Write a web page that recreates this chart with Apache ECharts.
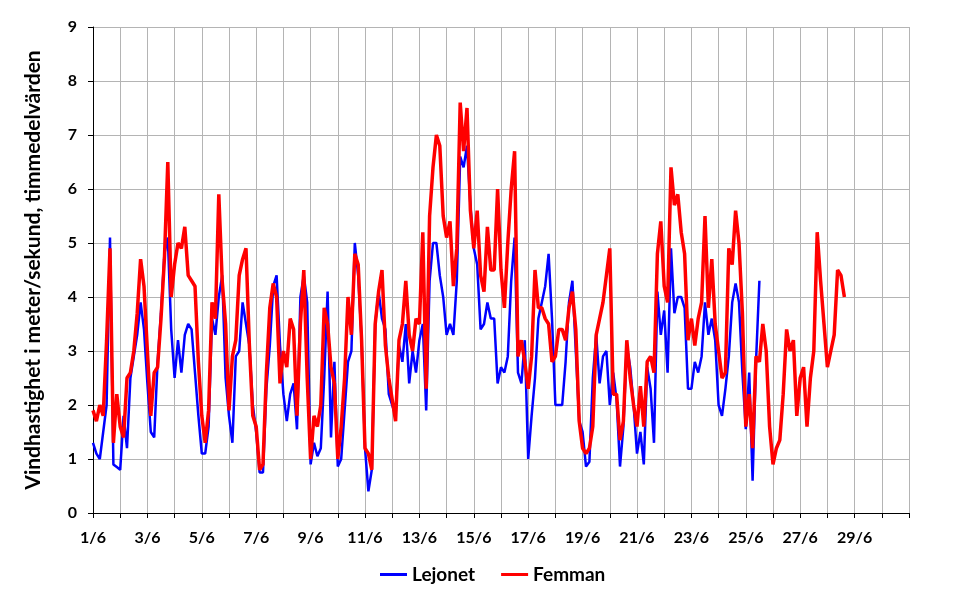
<!DOCTYPE html>
<html>
<head>
<meta charset="utf-8">
<script src="https://cdn.jsdelivr.net/npm/echarts@6/dist/echarts.min.js"></script>
<style>
html,body{margin:0;padding:0;background:#fff;}
#chart{width:969px;height:592px;}
</style>
</head>
<body>
<div id="chart"></div>
<script>
// 3-hour steps starting 1/6 00:00 (8 values per day)
const stepDays = 1 / 8;
const monthLabel = '/6';
const seriesNames = ['Lejonet', 'Femman'];
const yTitle = 'Vindhastighet i meter/sekund, timmedelvärden';

const lejonet = [
  1.3,1.1,1.0,1.5,2.0,5.1,0.9,0.85,
  0.8,1.8,1.2,2.5,2.9,3.3,3.9,3.4,
  2.4,1.5,1.4,2.8,3.7,4.8,5.1,3.4,
  2.5,3.2,2.6,3.3,3.5,3.4,2.6,1.8,
  1.1,1.1,1.6,3.6,3.3,4.0,4.4,2.5,
  1.8,1.3,2.9,3.0,3.9,3.5,3.1,2.0,
  1.5,0.75,0.75,2.3,3.1,4.2,4.4,3.1,
  2.2,1.7,2.2,2.4,1.55,4.0,4.4,3.9,
  0.9,1.3,1.05,1.2,2.5,4.1,1.4,2.8,
  0.86,1.0,1.9,2.8,3.0,5.0,4.4,3.2,
  1.2,0.4,0.8,3.5,4.1,3.6,3.4,2.2,
  2.0,1.8,3.1,2.8,3.5,2.4,3.0,2.6,
  3.2,3.5,1.9,4.3,5.0,5.0,4.4,4.0,
  3.3,3.5,3.3,4.3,6.6,6.4,6.8,5.7,
  4.9,4.6,3.4,3.5,3.9,3.6,3.6,2.4,
  2.7,2.6,2.9,4.3,5.1,2.6,2.4,3.2,
  1.0,1.8,2.5,3.6,3.9,4.2,4.8,3.6,
  2.0,2.0,2.0,2.8,3.9,4.3,3.0,1.7,
  1.5,0.86,0.95,2.5,3.3,2.4,2.9,3.0,
  2.0,2.6,2.1,0.86,1.6,3.1,2.7,2.0,
  1.1,1.5,0.9,2.7,2.3,1.3,4.1,3.3,
  3.75,2.6,4.9,3.7,4.0,4.0,3.8,2.3,
  2.3,2.8,2.6,2.9,3.9,3.3,3.6,3.2,
  2.0,1.8,2.3,2.9,3.9,4.25,3.9,2.6,
  1.55,2.6,0.6,2.8,4.3
];

const femman = [
  1.9,1.7,2.0,1.8,3.2,4.9,1.3,2.2,
  1.6,1.4,2.5,2.6,3.0,3.7,4.7,4.2,
  3.0,1.8,2.6,2.7,3.6,4.7,6.5,4.0,
  4.6,5.0,4.9,5.3,4.4,4.3,4.2,2.8,
  1.8,1.3,1.9,3.9,3.6,5.9,4.3,3.5,
  1.9,2.9,3.2,4.4,4.7,4.9,3.1,1.8,
  1.6,0.8,0.9,2.6,3.8,4.25,4.0,2.4,
  3.0,2.7,3.6,3.4,1.8,3.5,4.5,2.5,
  1.0,1.8,1.6,2.0,3.8,3.5,2.7,2.4,
  1.0,1.6,2.5,4.0,3.3,4.8,4.6,3.2,
  1.2,1.1,0.8,3.5,4.1,4.5,3.1,2.5,
  2.1,1.7,3.2,3.5,4.3,3.3,3.0,3.6,
  3.5,5.2,2.3,5.5,6.4,7.0,6.8,5.5,
  5.1,5.4,4.2,4.9,7.6,6.7,7.5,5.6,
  4.9,5.6,4.4,4.1,5.3,4.5,4.5,6.0,
  4.5,3.8,5.0,6.0,6.7,2.9,3.2,2.8,
  2.3,2.9,4.5,3.8,3.8,3.6,3.5,2.8,
  2.9,3.4,3.4,3.2,3.8,4.1,3.4,1.7,
  1.2,1.1,1.2,1.6,3.3,3.6,3.9,4.4,
  4.9,2.2,2.2,1.35,1.7,3.2,2.5,2.0,
  1.6,2.35,1.6,2.8,2.9,2.6,4.8,5.4,
  4.2,3.9,6.4,5.7,5.9,5.2,4.8,3.2,
  3.6,3.1,3.6,3.9,5.5,3.8,4.7,3.5,
  3.0,2.5,2.6,4.9,4.6,5.6,5.0,3.7,
  1.6,2.2,1.2,2.9,2.8,3.5,3.0,1.6,
  0.9,1.2,1.35,2.2,3.4,3.0,3.2,1.8,
  2.5,2.7,1.6,2.5,3.0,5.2,4.3,3.5,
  2.7,3.0,3.3,4.5,4.4,4.0
];

const toPairs = arr => arr.map((v, i) => [i * stepDays, v]);

const font = 'Lato, "Liberation Sans", sans-serif';
const chart = echarts.init(document.getElementById('chart'), null, {renderer: 'canvas'});
chart.setOption({
  animation: false,
  backgroundColor: '#ffffff',
  grid: {left: 93, right: 60, top: 27, bottom: 79, containLabel: false},
  xAxis: {
    type: 'value', min: 0, max: 30, interval: 1,
    axisLine: {show: true, lineStyle: {color: '#000', width: 1}},
    axisTick: {show: true, length: 5, lineStyle: {color: '#000'}},
    splitLine: {show: true, lineStyle: {color: '#b4b4b4', width: 1}},
    axisLabel: {
      color: '#000', fontFamily: font, fontWeight: 'bold', fontSize: 16, margin: 17,
      formatter: v => (v % 2 === 0 && v < 30) ? (v + 1) + monthLabel : ''
    }
  },
  yAxis: {
    type: 'value', min: 0, max: 9, interval: 1,
    name: yTitle, nameLocation: 'middle', nameGap: 49, nameRotate: 90,
    nameTextStyle: {color: '#000', fontFamily: font, fontWeight: 'bold', fontSize: 21},
    axisLine: {show: true, lineStyle: {color: '#000', width: 1}},
    axisTick: {show: true, length: 5, lineStyle: {color: '#000'}},
    splitLine: {show: true, lineStyle: {color: '#b4b4b4', width: 1}},
    axisLabel: {color: '#000', fontFamily: font, fontWeight: 'bold', fontSize: 16, margin: 16}
  },
  legend: {
    top: 560, left: 375, itemGap: 26, itemWidth: 27, itemHeight: 3,
    icon: 'rect',
    textStyle: {color: '#000', fontFamily: font, fontWeight: 'bold', fontSize: 19},
    data: seriesNames
  },
  series: [
    {name: seriesNames[0], type: 'line', data: toPairs(lejonet), showSymbol: false,
     lineStyle: {color: '#0000ff', width: 2.5}, itemStyle: {color: '#0000ff'}, z: 2},
    {name: seriesNames[1], type: 'line', data: toPairs(femman), showSymbol: false,
     lineStyle: {color: '#ff0000', width: 3.5}, itemStyle: {color: '#ff0000'}, z: 3}
  ]
});
</script>
</body>
</html>
